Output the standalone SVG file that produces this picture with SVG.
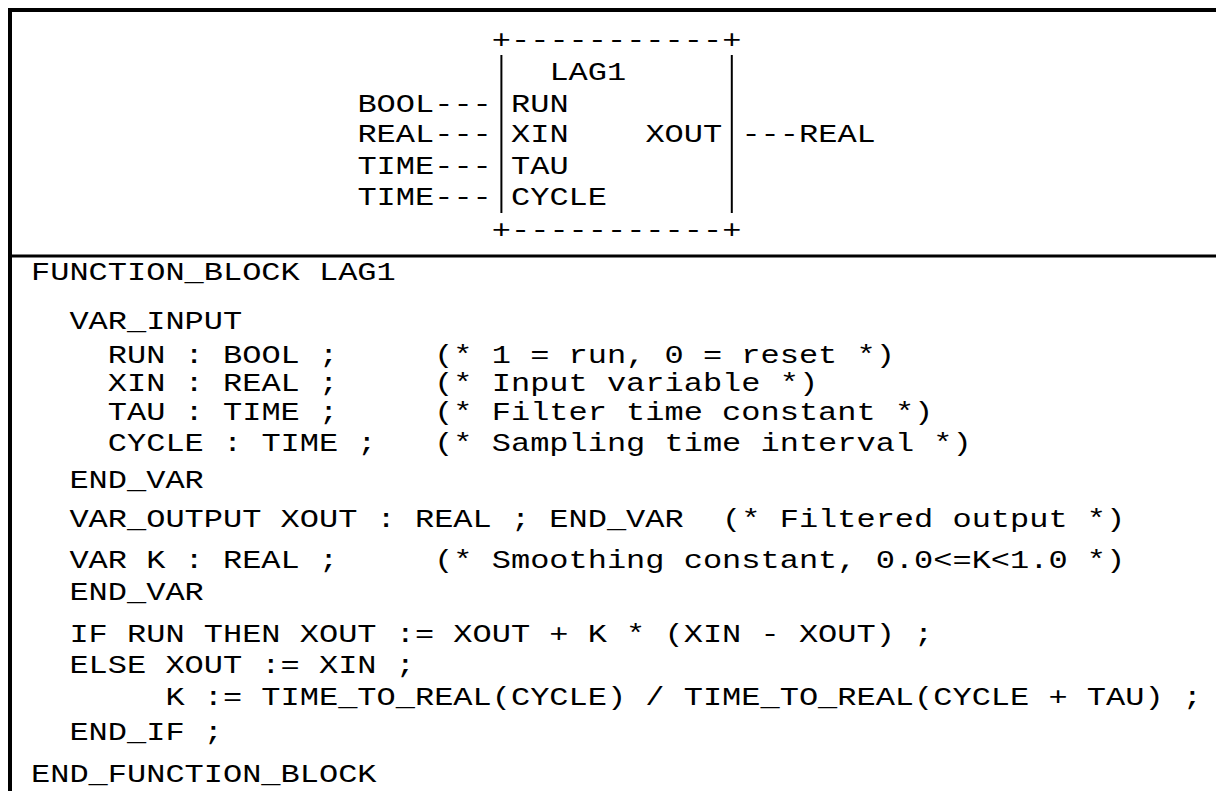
<svg xmlns="http://www.w3.org/2000/svg" width="1216" height="791" viewBox="0 0 1216 791" xml:space="preserve">
<style>
.t { font-family: "Liberation Mono", "DejaVu Sans Mono", monospace; font-size: 32px; fill: #000; white-space: pre; }
.frame { stroke: #000; fill: none; }
.bar { stroke: #000; stroke-width: 2; fill: none; }
</style>
<rect width="1216" height="791" fill="#fff"/>
<g id="frame">
  <line class="frame" x1="8" y1="10" x2="1216" y2="10" stroke-width="4"/>
  <line class="frame" x1="10" y1="8" x2="10" y2="791" stroke-width="4"/>
  <line class="frame" x1="10" y1="256" x2="1216" y2="256" stroke-width="3"/>
</g>
<g id="block-LAG1">
  <text class="t" x="491.8" transform="translate(0,48) scale(1,0.78)">+-----------+</text>
  <line class="bar" x1="501.4" y1="55" x2="501.4" y2="213"/>
  <line class="bar" x1="731.8" y1="55" x2="731.8" y2="213"/>
  <text class="t" x="549.4" transform="translate(0,80) scale(1,0.78)">LAG1</text>
  <text class="t" x="357.4" transform="translate(0,111.5) scale(1,0.78)">BOOL---</text>
  <text class="t" x="511" transform="translate(0,111.5) scale(1,0.78)">RUN</text>
  <text class="t" x="357.4" transform="translate(0,142) scale(1,0.78)">REAL---</text>
  <text class="t" x="511" transform="translate(0,142) scale(1,0.78)">XIN    XOUT</text>
  <text class="t" x="741.4" transform="translate(0,142) scale(1,0.78)">---REAL</text>
  <text class="t" x="357.4" transform="translate(0,173.5) scale(1,0.78)">TIME---</text>
  <text class="t" x="511" transform="translate(0,173.5) scale(1,0.78)">TAU</text>
  <text class="t" x="357.4" transform="translate(0,205) scale(1,0.78)">TIME---</text>
  <text class="t" x="511" transform="translate(0,205) scale(1,0.78)">CYCLE</text>
  <text class="t" x="491.8" transform="translate(0,238) scale(1,0.78)">+-----------+</text>
</g>
<g id="code">
  <text class="t" x="31" transform="translate(0,279.5) scale(1,0.78)">FUNCTION_BLOCK LAG1</text>
  <text class="t" x="69.4" transform="translate(0,328.5) scale(1,0.78)">VAR_INPUT</text>
  <text class="t" x="107.8" transform="translate(0,362.5) scale(1,0.78)">RUN : BOOL ;     (* 1 = run, 0 = reset *)</text>
  <text class="t" x="107.8" transform="translate(0,391) scale(1,0.78)">XIN : REAL ;     (* Input variable *)</text>
  <text class="t" x="107.8" transform="translate(0,419.5) scale(1,0.78)">TAU : TIME ;     (* Filter time constant *)</text>
  <text class="t" x="107.8" transform="translate(0,450.5) scale(1,0.78)">CYCLE : TIME ;   (* Sampling time interval *)</text>
  <text class="t" x="69.4" transform="translate(0,487.5) scale(1,0.78)">END_VAR</text>
  <text class="t" x="69.4" transform="translate(0,527) scale(1,0.78)">VAR_OUTPUT XOUT : REAL ; END_VAR  (* Filtered output *)</text>
  <text class="t" x="69.4" transform="translate(0,568) scale(1,0.78)">VAR K : REAL ;     (* Smoothing constant, 0.0&lt;=K&lt;1.0 *)</text>
  <text class="t" x="69.4" transform="translate(0,600) scale(1,0.78)">END_VAR</text>
  <text class="t" x="69.4" transform="translate(0,642) scale(1,0.78)">IF RUN THEN XOUT := XOUT + K * (XIN - XOUT) ;</text>
  <text class="t" x="69.4" transform="translate(0,673) scale(1,0.78)">ELSE XOUT := XIN ;</text>
  <text class="t" x="165.4" transform="translate(0,705) scale(1,0.78)">K := TIME_TO_REAL(CYCLE) / TIME_TO_REAL(CYCLE + TAU) ;</text>
  <text class="t" x="69.4" transform="translate(0,740) scale(1,0.78)">END_IF ;</text>
  <text class="t" x="31" transform="translate(0,782) scale(1,0.78)">END_FUNCTION_BLOCK</text>
</g>
</svg>
